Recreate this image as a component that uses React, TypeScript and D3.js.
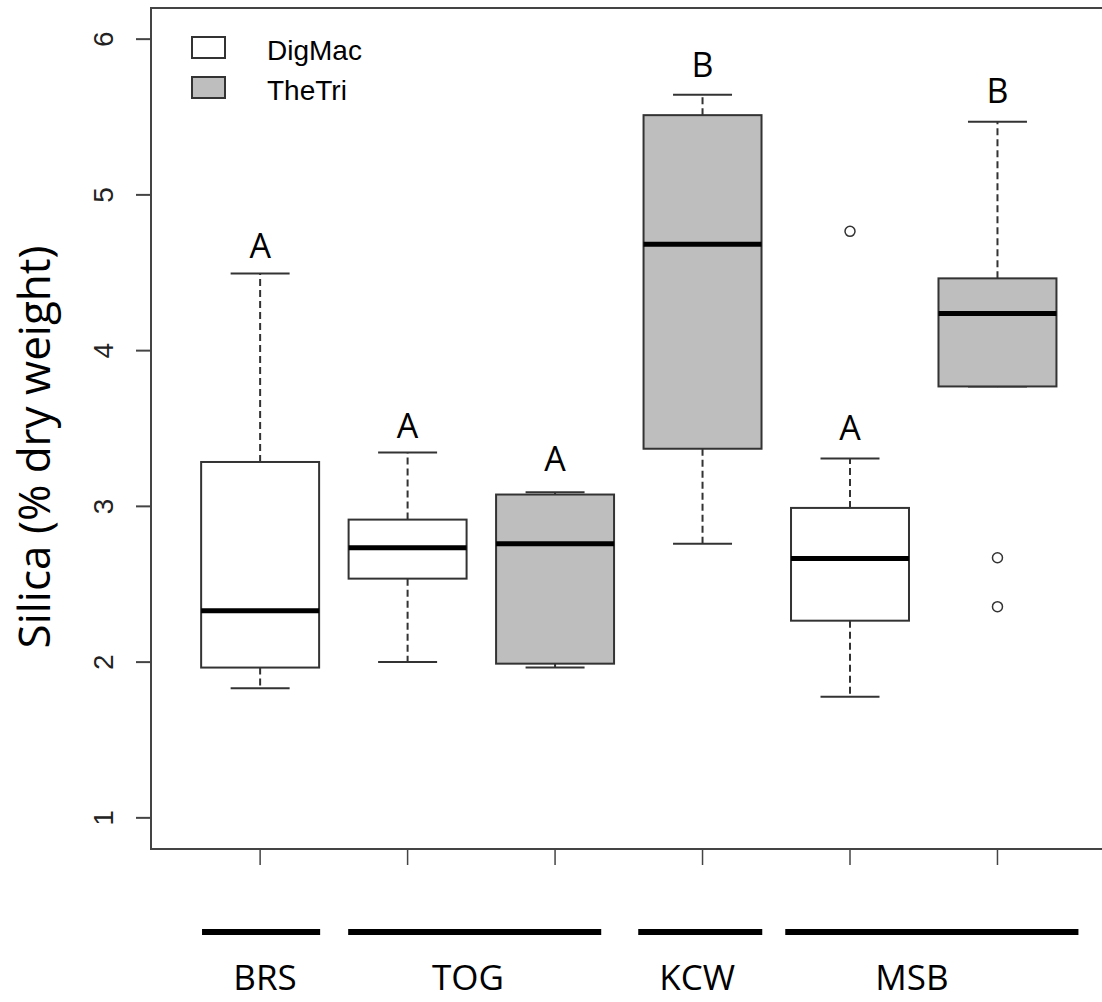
import React from "react";
import * as d3 from "d3";

// ---- data ----
const positions = [1, 2, 3, 4, 5, 6];
const species = ["DigMac", "DigMac", "TheTri", "TheTri", "DigMac", "TheTri"];
const whiskerLow = [1.832, 2.0, 1.965, 2.76, 1.778, 3.77];
const q1 = [1.965, 2.536, 1.99, 3.37, 2.266, 3.77];
const median = [2.33, 2.735, 2.76, 4.683, 2.665, 4.239];
const q3 = [3.285, 2.915, 3.076, 5.512, 2.99, 4.464];
const whiskerHigh = [4.496, 3.346, 3.09, 5.643, 3.307, 5.47];
const outliers: number[][] = [[], [], [], [], [4.766], [2.67, 2.356]];
const letters = ["A", "A", "A", "B", "A", "B"];
const letterY = [4.593, 3.436, 3.23, 5.756, 3.423, 5.589];

const yTicks = [1, 2, 3, 4, 5, 6];
const legendNames = ["DigMac", "TheTri"];
const legendFills = ["#ffffff", "#bebebe"];

const groups = ["BRS", "TOG", "KCW", "MSB"];
const groupStart = [0.606, 1.597, 3.564, 4.561];
const groupEnd = [1.407, 3.313, 4.405, 6.549];
const groupLabelX = [1.033, 2.41, 3.964, 5.42];

const yLabel = "Silica (% dry weight)";

export default function App() {
  const W = 1102, H = 1002;
  const x = d3.scaleLinear().domain([0.26, 6.74]).range([151, 1106.6]);
  const y = d3.scaleLinear().domain([0.8, 6.2]).range([849, 8]);
  const fill = d3.scaleOrdinal<string, string>().domain(legendNames).range(legendFills);
  const boxW = x(0.8) - x(0);
  const capW = boxW / 2;
  const lineCol = "#333";
  const sans = "'Liberation Sans', Arial, sans-serif";
  const calib = "'Open Sans', sans-serif";

  return (
    <svg width={W} height={H} style={{ position: "absolute", left: 0, top: 0, background: "#fff" }}>
      <rect x={0} y={0} width={W} height={H} fill="#fff" />
      {/* plot border */}
      <rect x={x(0.26)} y={y(6.2)} width={x(6.74) - x(0.26)} height={y(0.8) - y(6.2)} fill="none" stroke="#444" strokeWidth={2} />

      {/* y axis ticks */}
      {yTicks.map((t) => (
        <g key={"yt" + t}>
          <line x1={x(0.26) - 15} x2={x(0.26)} y1={y(t)} y2={y(t)} stroke="#444" strokeWidth={2} />
          <text
            transform={`translate(${x(0.26) - 38},${y(t)}) rotate(-90)`}
            textAnchor="middle"
            fontFamily={sans}
            fontSize={28}
            fill="#222"
          >
            {t}
          </text>
        </g>
      ))}

      {/* x axis ticks */}
      {positions.map((p) => (
        <line key={"xt" + p} x1={x(p)} x2={x(p)} y1={y(0.8)} y2={y(0.8) + 16} stroke="#444" strokeWidth={1.5} />
      ))}

      {/* boxes */}
      {positions.map((p, i) => {
        const cx = x(p);
        return (
          <g key={"box" + p}>
            <line x1={cx} x2={cx} y1={y(q3[i])} y2={y(whiskerHigh[i])} stroke={lineCol} strokeWidth={2} strokeDasharray="7,4" />
            <line x1={cx} x2={cx} y1={y(q1[i])} y2={y(whiskerLow[i])} stroke={lineCol} strokeWidth={2} strokeDasharray="7,4" />
            <line x1={cx - capW / 2} x2={cx + capW / 2} y1={y(whiskerHigh[i])} y2={y(whiskerHigh[i])} stroke={lineCol} strokeWidth={2} />
            <line x1={cx - capW / 2} x2={cx + capW / 2} y1={y(whiskerLow[i])} y2={y(whiskerLow[i])} stroke={lineCol} strokeWidth={2} />
            <rect
              x={cx - boxW / 2}
              y={y(q3[i])}
              width={boxW}
              height={y(q1[i]) - y(q3[i])}
              fill={fill(species[i])}
              stroke={lineCol}
              strokeWidth={2}
            />
            <line x1={cx - boxW / 2} x2={cx + boxW / 2} y1={y(median[i])} y2={y(median[i])} stroke="#000" strokeWidth={5} />
            {outliers[i].map((o, j) => (
              <circle key={j} cx={cx} cy={y(o)} r={5} fill="#fff" stroke={lineCol} strokeWidth={1.5} />
            ))}
            <text x={cx} y={y(letterY[i])} textAnchor="middle" fontFamily={calib} fontSize={34} fill="#000">
              {letters[i]}
            </text>
          </g>
        );
      })}

      {/* legend */}
      {legendNames.map((n, i) => (
        <g key={"lg" + n}>
          <rect x={192} y={37 + i * 40} width={33} height={21} fill={legendFills[i]} stroke={lineCol} strokeWidth={2} />
          <text x={267} y={60 + i * 40} fontFamily={sans} fontSize={28} fill="#000">
            {n}
          </text>
        </g>
      ))}

      {/* group bars and labels */}
      {groups.map((g, i) => (
        <g key={"grp" + g}>
          <line x1={x(groupStart[i])} x2={x(groupEnd[i])} y1={932} y2={932} stroke="#000" strokeWidth={6} />
          <text x={x(groupLabelX[i])} y={990} textAnchor="middle" fontFamily={calib} fontSize={35} fill="#000">
            {g}
          </text>
        </g>
      ))}

      {/* y label */}
      <text transform={`translate(50,447) rotate(-90)`} textAnchor="middle" fontFamily={calib} fontSize={44} fill="#000">
        {yLabel}
      </text>
    </svg>
  );
}
